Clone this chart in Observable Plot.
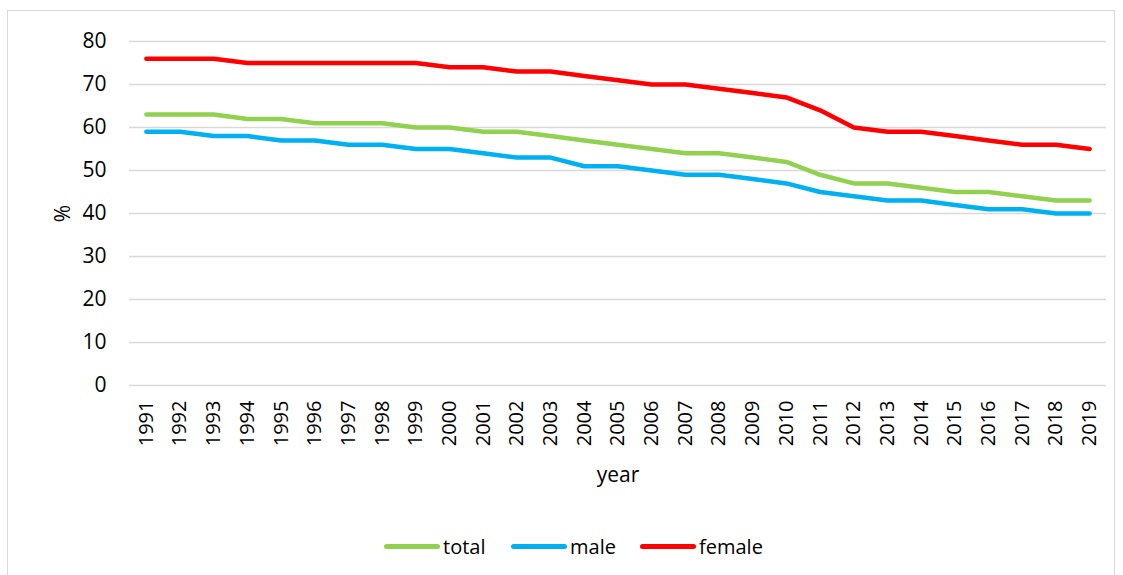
<!DOCTYPE html>
<html>
<head>
<meta charset="utf-8">
<script src="https://cdn.jsdelivr.net/npm/d3@7"></script>
<script src="https://cdn.jsdelivr.net/npm/@observablehq/plot@0.6"></script>
<style>
  body { margin: 0; background: #fff; }
  #wrap { position: relative; width: 1123px; height: 575px; overflow: hidden; font-family: "Open Sans", "Liberation Sans", sans-serif; }
  #frame { position: absolute; left: 7px; top: 10px; width: 1108px; height: 600px; border: 1px solid #d9d9d9; box-sizing: border-box; }
  #chart { position: absolute; left: 0; top: 0; }
  #legend { position: absolute; left: 0; top: 533px; width: 1123px; height: 26px; }
  .item { position: absolute; top: 0; display: flex; align-items: center; height: 26px; font-size: 20px; color: #000; }
  .sw { width: 56px; height: 5px; border-radius: 3px; margin-right: 3px; }
</style>
</head>
<body>
<div id="wrap">
  <div id="frame"></div>
  <div id="chart"></div>
  <div id="legend"></div>
</div>
<script>
const years = ["1991","1992","1993","1994","1995","1996","1997","1998","1999","2000","2001","2002","2003","2004","2005","2006","2007","2008","2009","2010","2011","2012","2013","2014","2015","2016","2017","2018","2019"];
const total  = [63,63,63,62,62,61,61,61,60,60,59,59,58,57,56,55,54,54,53,52,49,47,47,46,45,45,44,43,43];
const male   = [59,59,58,58,57,57,56,56,55,55,54,53,53,51,51,50,49,49,48,47,45,44,43,43,42,41,41,40,40];
const female = [76,76,76,75,75,75,75,75,75,74,74,73,73,72,71,70,70,69,68,67,64,60,59,59,58,57,56,56,55];
const seriesNames = ["total","male","female"];
const seriesColors = ["#92D050","#00B0F0","#FF0000"];
const yTicks = [0,10,20,30,40,50,60,70,80];

const seriesValues = {total, male, female};
const rows = [];
for (const s of seriesNames) {
  years.forEach((y, i) => rows.push({year: y, value: seriesValues[s][i], series: s}));
}

const chart = Plot.plot({
  width: 1123,
  height: 500,
  marginLeft: 129,
  marginRight: 17,
  marginTop: 41,
  marginBottom: 115,
  style: {fontFamily: '"Open Sans", "Liberation Sans", sans-serif', fontSize: "20px", color: "#000", background: "transparent"},
  x: {type: "point", domain: years, padding: 0.5, round: false},
  y: {domain: [0, 80]},
  color: {domain: seriesNames, range: seriesColors},
  marks: [
    Plot.gridY(yTicks, {stroke: "#d9d9d9", strokeOpacity: 1, strokeWidth: 1.3}),
    Plot.axisY(yTicks, {tickSize: 0, tickPadding: 23, fontSize: 21, label: "%", labelAnchor: "center", labelArrow: "none", labelOffset: 74}),
    Plot.axisX({tickSize: 0, tickPadding: 15, tickRotate: -90, fontSize: 20, label: "year", labelAnchor: "center", labelArrow: "none", labelOffset: 96}),
    Plot.line(rows, {x: "year", y: "value", z: "series", stroke: "series", strokeWidth: 4.5, strokeLinecap: "round", strokeLinejoin: "round"})
  ]
});
document.getElementById("chart").appendChild(chart);
// explicit text sizes
chart.querySelectorAll("text").forEach(t => {
  const txt = t.textContent;
  if (txt === "year" || txt === "%") t.style.fontSize = "21px";
  else if (years.includes(txt)) t.style.fontSize = "20px";
  else t.style.fontSize = "21px";
});

// legend
const legend = document.getElementById("legend");
const lefts = [384, 511, 640];
seriesNames.forEach((s, i) => {
  const it = document.createElement("div");
  it.className = "item";
  it.style.left = lefts[i] + "px";
  const sw = document.createElement("div");
  sw.className = "sw";
  sw.style.background = seriesColors[i];
  const t = document.createElement("span");
  t.textContent = s;
  it.appendChild(sw); it.appendChild(t);
  legend.appendChild(it);
});
</script>
</body>
</html>
